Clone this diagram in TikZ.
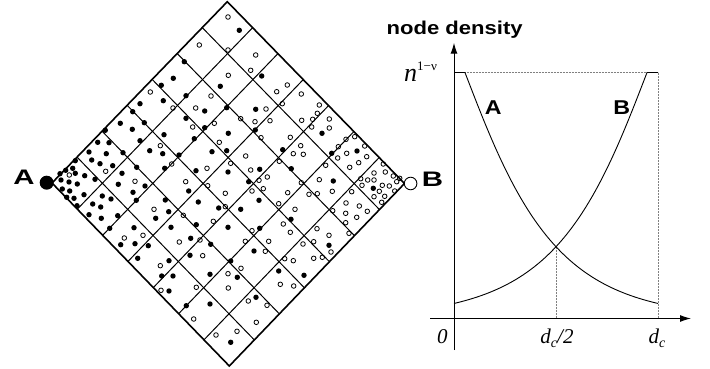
\documentclass[tikz,border=0pt]{standalone}
\usepackage{fontspec}
\setmainfont{Liberation Serif}
\newfontfamily\hv{Liberation Sans}
\usetikzlibrary{calc,arrows.meta}
\begin{document}
\begin{tikzpicture}[x=1pt,y=-1pt,
  frame/.style={line width=1.6pt,line join=miter},
  gridline/.style={line width=1pt},
  fdot/.style={fill=black},
  hdot/.style={draw=black,fill=white,line width=0.8pt},
  bigsans/.style={font=\hv\bfseries\fontsize{21}{21}\selectfont,inner sep=0pt,anchor=base},
  lblsans/.style={font=\hv\bfseries\fontsize{20}{20}\selectfont,inner sep=0pt,anchor=base},
  mathlbl/.style={font=\fontsize{21}{21}\selectfont\itshape,inner sep=0pt,anchor=base},
  axisline/.style={line width=1pt,-{Latex[length=11pt,width=7pt]}},
  curve/.style={line width=0.9pt},
  guide/.style={line width=0.5pt,densely dotted,gray}]
\useasboundingbox (0,0) rectangle (710,369);
% diamond corners
\coordinate (L) at (52,183);
\coordinate (T) at (227.3,1.7);
\coordinate (R) at (404.5,183.5);
\coordinate (Bm) at (229.3,366);
% dots
\foreach \p in {(239.3,30.3),(184.3,61.7),(261.7,76),(173.3,78.3),(161.3,85.3),(163.3,100.7),(186,95.7),(220.3,86.3),(226.7,107.7),(140,103.7),(132.7,111.7),(120.3,123.3),(144.3,122.7),(132.3,129.3),(140,140.7),(204.7,111),(186,118.3),(204.7,127.7),(194.3,138.7),(255.7,109.3),(255.3,130),(105.3,130.3),(97.7,142.3),(109,142.7),(89,152),(106.3,153.7),(123,152.7),(91.7,160),(100,163.7),(112.7,165.7),(164,134.7),(149.7,150.7),(162.7,153.7),(179,155),(164.7,168.3),(228.3,133.3),(212,151.7),(226.7,150.7),(228,172),(282.7,149.7),(291.3,168.7),(75.3,160.7),(65.7,170.3),(72.7,168.3),(60,173.7),(75.3,173.3),(61,180),(69,182),(77.3,184),(62.3,189),(69.7,191),(66.7,197.3),(74,198.3),(77,205.7),(84,194.7),(84.7,175.7),(95,179.3),(102.3,196),(111,199),(92.7,204),(100.7,207),(89,214.7),(101.3,218.3),(117.7,215.7),(109.7,228.3),(122,173.3),(136.7,167.3),(118.3,184.3),(145,186),(133,192.3),(136.3,200.3),(196,170.7),(188.7,191),(198.3,202),(259.7,169.3),(248.7,181.7),(259,200.3),(165.3,200),(168.7,211.7),(155.7,218.3),(171,227.3),(218.7,208),(240.7,209.3),(228,227.3),(291,219.3),(134,227.7),(120.7,244.7),(135,243.7),(148.3,245.7),(137.7,258.3),(196.3,224.7),(190.7,238.3),(210.7,244.3),(190,255.3),(259.7,228.3),(254,251),(169,260.7),(161.7,276),(173,276),(169,291),(230.7,261),(237.3,277.3),(210,274.3),(278.7,271),(186.3,305.7),(210,304),(256,297.3),(230.7,342.3),(322,133.3),(331.7,153.3),(357,151),(333.3,181),(373.3,188.3),(329,245.3),(304,275.3)}
  \fill[fdot] \p circle[radius=2.7];
\foreach \p in {(228,17),(199.3,45),(228,50),(255.7,55),(250.7,70.3),(150.3,92),(173,108),(228.3,75.3),(211,96),(276.7,91.7),(287.3,85),(282.3,103.7),(195.7,108),(192.7,127),(214.3,123.3),(266,109),(240.7,118.7),(255,121.7),(270,120.7),(261,137.7),(105.7,171.3),(160.3,145.7),(171.7,164),(219.3,142.3),(245.7,156),(230.7,163.3),(290.3,137.3),(293.3,153.7),(279.3,161.3),(69.3,175),(135,181.3),(207,168.3),(185.7,181.7),(207.7,185.7),(250.7,170),(259,180.3),(267.3,177),(252,191),(263.3,188.7),(154,209.3),(183.3,215.3),(225.3,193.3),(225.3,206.7),(213.3,221.3),(287.7,192.7),(278.7,203.7),(295,209.3),(283.3,224),(290.3,232.3),(124.3,238),(143,235.3),(179.3,242),(200,240),(202.7,255.7),(252,230.7),(245.3,241.3),(268.7,241.3),(265.3,251.3),(160.3,265.7),(161,290.3),(228,273.7),(241,268.3),(228.3,288),(284.7,258.7),(293.3,260.7),(280.3,284.3),(293.7,286),(196.3,287.3),(193.7,319),(248.3,301),(267,305.3),(256.3,322.3),(216,335),(237,331.3),(301.3,94),(319.3,105),(317.3,113.3),(301.7,120.3),(312.7,119.3),(329.3,119),(311.7,127),(329.3,128),(300.7,145.7),(303.3,154.3),(338.3,146.7),(346,139.3),(354.7,136.7),(337.7,158),(346.7,153.3),(364.7,146),(366.7,156.7),(358.7,162.7),(349.7,167.3),(325.7,165.3),(301.3,182.7),(319.3,179.7),(309,194.3),(317.3,193.7),(332.3,191.3),(383.3,164),(374,173),(385.3,172),(393.3,176),(399.7,178.3),(360.7,178.7),(367.7,180),(374,180),(396.7,181.7),(362,185.3),(382.3,185.3),(389.3,186),(379.3,191.3),(394.7,191),(384.7,196.3),(374,196.7),(381.7,202.3),(351.7,191.7),(346,203),(359.3,206),(345.7,213.3),(356.7,217.3),(367.3,211.3),(345.7,222.7),(349,233.3),(332.7,210.7),(317,228.7),(303,244),(313.7,241.7),(329,235.3),(331,252),(322.3,257.3),(313.7,258.3)}
  \draw[hdot] \p circle[radius=2.3];
% grid
\foreach \i in {1,...,6} {
  \draw[gridline] ($(L)!\i/7!(T)$) -- ($(Bm)!\i/7!(R)$);
  \draw[gridline] ($(L)!\i/7!(Bm)$) -- ($(T)!\i/7!(R)$);
}
\draw[frame] (L) -- (T) -- (R) -- (Bm) -- cycle;
% end points
\fill (46.7,182.7) circle[radius=7];
\draw[line width=0.9pt,fill=white] (410.6,183.5) circle[radius=6.3];
\node[bigsans] (labA) at (24,184.3) {\scalebox{1.4}[1]{A}};
\node[bigsans] (labB) at (432.5,186.7) {\scalebox{1.4}[1]{B}};
% graph
\coordinate (ybot) at (454,350);
\coordinate (ytop) at (454,42.7);
\coordinate (xl) at (430,318.5);
\coordinate (xr) at (691,318.5);
\draw[guide] (465,72.3) -- (658,72.3) -- (658,318.5);
\draw[guide] (556,246.7) -- (556,318.5);
\draw[axisline] (ybot) -- (ytop);
\draw[axisline] (xl) -- (xr);
\draw[curve] (454,72.5) -- (465,72.5) -- plot[domain=0:193,samples=80,variable=\t] ({465+\t},{318.5-exp(5.505-0.0155*\t+0.2*(1-exp(-\t/40)))});
\draw[curve] (658,72.5) -- (647,72.5) -- plot[domain=0:193,samples=80,variable=\t] ({647-\t},{318.5-exp(5.505-0.0155*\t+0.2*(1-exp(-\t/40)))});
\node[font=\hv\bfseries\fontsize{18.6}{18.6}\selectfont,inner sep=0pt,anchor=base] (title) at (454.7,35) {\scalebox{1.186}[1]{node density}};
\node[lblsans] (gA) at (493.3,114.3) {\scalebox{1.16}[1]{A}};
\node[lblsans] (gB) at (621.7,114.3) {\scalebox{1.16}[1]{B}};
\node[inner sep=0pt,anchor=base west] (nlev) at (404,81.7) {{\fontsize{26}{26}\selectfont\itshape n}\raisebox{11.5pt}{\fontsize{13}{13}\selectfont 1−ν}};
\node[mathlbl] (zero) at (442.3,343) {0};
\node[mathlbl] (dhalf) at (557,343) {d\raisebox{-4pt}{\fontsize{14}{14}\selectfont c}/2};
\node[mathlbl] (dc) at (657,343) {d\raisebox{-4pt}{\fontsize{14}{14}\selectfont c}};
\end{tikzpicture}
\end{document}
